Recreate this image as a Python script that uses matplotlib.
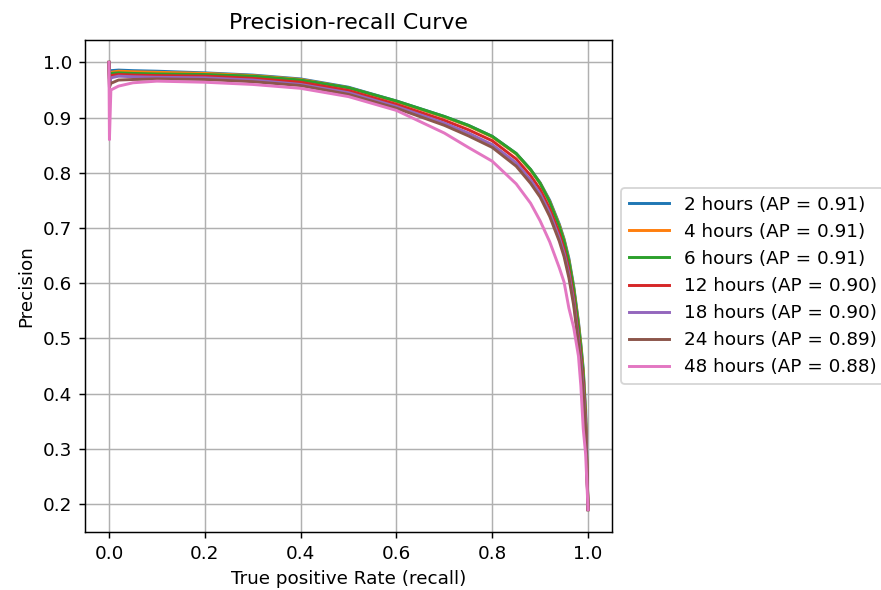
import numpy as np
import matplotlib

matplotlib.use("Agg")
import matplotlib.pyplot as plt

# recall grid shared by all horizons
recall = [0.0, 0.001, 0.004, 0.02, 0.05, 0.1, 0.2, 0.3, 0.4, 0.5, 0.6, 0.7, 0.75,
          0.8, 0.85, 0.88, 0.9, 0.92, 0.94, 0.95, 0.96, 0.97, 0.98, 0.985, 0.99,
          0.995, 1.0]

prec_2h = [1.0, 0.975, 0.985, 0.986, 0.985, 0.984, 0.981, 0.977, 0.970, 0.955, 0.930,
           0.902, 0.886, 0.866, 0.835, 0.806, 0.782, 0.750, 0.707, 0.680, 0.645,
           0.595, 0.530, 0.490, 0.445, 0.370, 0.19]
prec_4h = [1.0, 0.970, 0.982, 0.984, 0.983, 0.982, 0.980, 0.976, 0.969, 0.954, 0.929,
           0.901, 0.885, 0.865, 0.834, 0.805, 0.781, 0.748, 0.705, 0.678, 0.642,
           0.592, 0.527, 0.487, 0.440, 0.360, 0.19]
prec_6h = [1.0, 0.970, 0.980, 0.981, 0.980, 0.979, 0.978, 0.975, 0.968, 0.954, 0.930,
           0.902, 0.886, 0.866, 0.835, 0.806, 0.781, 0.747, 0.703, 0.676, 0.640,
           0.590, 0.523, 0.483, 0.435, 0.355, 0.19]
prec_12h = [1.0, 0.960, 0.976, 0.978, 0.977, 0.976, 0.975, 0.971, 0.964, 0.949, 0.924,
            0.895, 0.878, 0.858, 0.825, 0.795, 0.770, 0.735, 0.690, 0.662, 0.625,
            0.575, 0.505, 0.466, 0.420, 0.345, 0.19]
prec_18h = [1.0, 0.955, 0.972, 0.975, 0.974, 0.973, 0.972, 0.968, 0.960, 0.945, 0.920,
            0.890, 0.872, 0.851, 0.818, 0.787, 0.762, 0.727, 0.682, 0.654, 0.617,
            0.567, 0.497, 0.458, 0.410, 0.340, 0.19]
prec_24h = [1.0, 0.955, 0.962, 0.968, 0.969, 0.970, 0.969, 0.965, 0.958, 0.942, 0.917,
            0.886, 0.867, 0.846, 0.812, 0.781, 0.756, 0.721, 0.676, 0.648, 0.610,
            0.560, 0.490, 0.450, 0.400, 0.335, 0.19]
prec_48h = [1.0, 0.860, 0.950, 0.957, 0.963, 0.966, 0.964, 0.960, 0.953, 0.938, 0.913,
            0.872, 0.846, 0.821, 0.780, 0.745, 0.713, 0.675, 0.628, 0.602, 0.555,
            0.520, 0.468, 0.414, 0.336, 0.290, 0.19]

horizons = ["2 hours", "4 hours", "6 hours", "12 hours", "18 hours", "24 hours", "48 hours"]
ap_scores = [0.91, 0.91, 0.91, 0.90, 0.90, 0.89, 0.88]
precisions = [prec_2h, prec_4h, prec_6h, prec_12h, prec_18h, prec_24h, prec_48h]

DPI = 132
fig = plt.figure(figsize=(881 / DPI, 590 / DPI), dpi=DPI)
ax = fig.add_axes([85 / 881, 58 / 590, 527 / 881, 492 / 590])

for name, ap, prec in zip(horizons, ap_scores, precisions):
    ax.plot(recall, prec, linewidth=1.6, label=f"{name} (AP = {ap:.2f})")

ax.set_title("Precision-recall Curve")
ax.set_xlabel("True positive Rate (recall)")
ax.set_ylabel("Precision")
ax.grid(True)
ax.legend(loc="center left", bbox_to_anchor=(1.0, 0.5), handlelength=2.2)

fig.savefig("out.png", dpi=DPI)
